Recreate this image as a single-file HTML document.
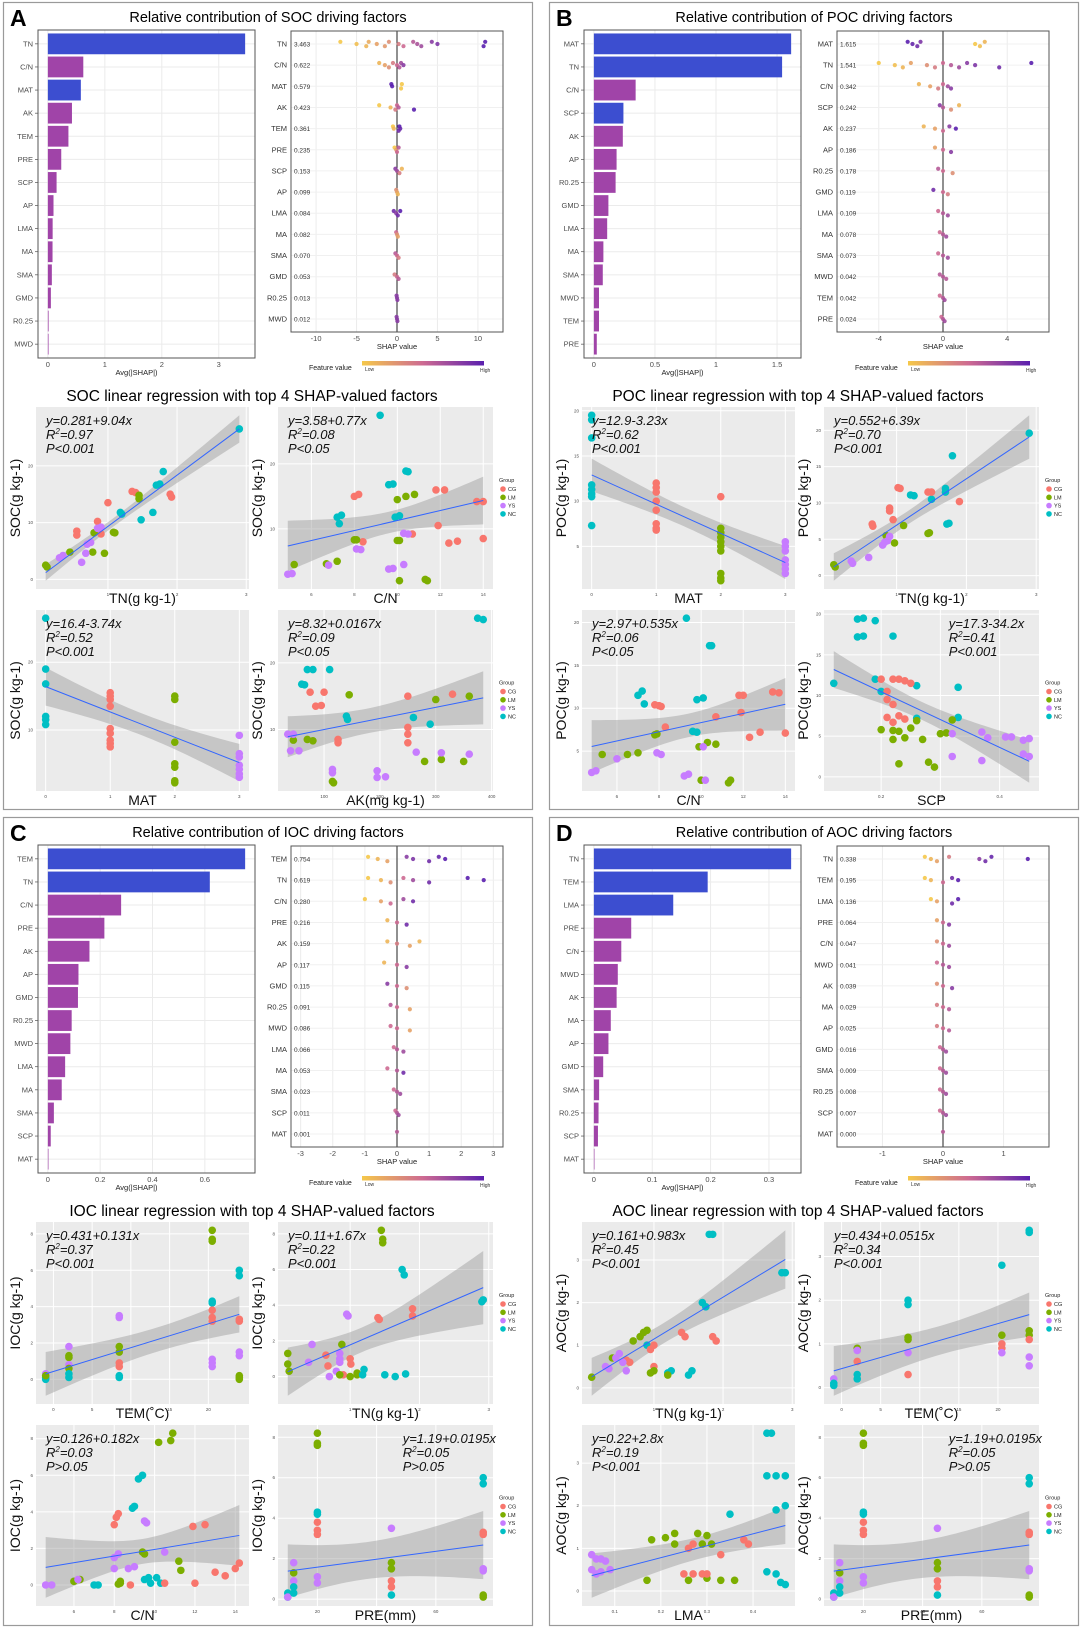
<!DOCTYPE html>
<html><head><meta charset="utf-8">
<style>
html,body{margin:0;padding:0;background:#fff;}
svg{display:block;font-family:"Liberation Sans",Arial,sans-serif;}
</style></head>
<body>
<svg id="fig" width="1080" height="1628" viewBox="0 0 1080 1628" xmlns="http://www.w3.org/2000/svg"></svg>
<script>
// ---------------- DATA ----------------
const A_barLabels=["TN","C/N","MAT","AK","TEM","PRE","SCP","AP","LMA","MA","SMA","GMD","R0.25","MWD"];
const A_barValues=[3.463,0.622,0.579,0.423,0.361,0.235,0.153,0.099,0.084,0.082,0.070,0.053,0.013,0.012];
const A_barBlue=["TN","MAT"];
const A_barTicks=[0,1,2,3];
const A_shapTicks=[-10,-5,0,5,10];
const A_shapRange=[-13.1,13.1];
const A_shapVals=[[-7,-5,-3.8,-3.5,-2.5,-1.5,-1,0.2,0.8,2,2.5,3,4.3,5,10.7,10.9],[-2.2,-1.5,-1,-0.5,0,0.3,0.5,0.8],[-0.7,-0.6,0.5,0.6],[-2.2,-0.8,-0.2,0,0.2,2.1],[-0.5,-0.4,0.2,0.3,0.4],[-0.3,-0.1,0,0.2],[-0.2,0,0.3,0.6],[-0.1,0,0.1],[-0.4,-0.1,0.1,0.4],[-0.1,0,0.1],[-0.2,0,0.2],[-0.3,0,0.2],[-0.05,0,0.05],[-0.05,0,0.05]];
const A_shapFv=[[0,0.05,0.1,0.15,0.2,0.25,0.3,0.4,0.5,0.6,0.65,0.7,0.8,0.85,1,1],[0.1,0.2,0.3,0.4,0.5,0.6,0.7,0.8],[1,1,0,0],[0,0.1,0.4,0.5,0.6,1],[0,0.1,0.9,1,0.95],[0,0.2,0.5,0.6],[0.8,0.7,0.4,0.1],[0.3,0.2,0.1],[0.9,0.8,0.9,1],[0.5,0.3,0.2],[0.6,0.5,0.4],[0.4,0.5,0.6],[0.8,0.8,0.8],[0.8,0.8,0.8]];

const B_barLabels=["MAT","TN","C/N","SCP","AK","AP","R0.25","GMD","LMA","MA","SMA","MWD","TEM","PRE"];
const B_barValues=[1.615,1.541,0.342,0.242,0.237,0.186,0.178,0.119,0.109,0.078,0.073,0.042,0.042,0.024];
const B_barBlue=["MAT","TN","SCP"];
const B_barTicks=[0,0.5,1.0,1.5];
const B_shapTicks=[-4,0,4];
const B_shapRange=[-6.6,6.6];
const B_shapVals=[[-2.2,-1.9,-1.6,-1.4,2.0,2.3,2.6],[-4,-3,-2.5,-2,-1,-0.5,0,0.5,1,1.5,2,3.5,5.5],[-1.5,-0.8,-0.3,0,0.3,0.5],[-0.2,0,0.5,1],[-1.2,-0.5,0,0.4,0.8],[-0.5,0,0.5],[-0.3,0,0.6],[-0.6,0,0.3],[-0.3,0,0.3],[-0.2,0,0.2],[-0.3,0,0.3],[-0.2,0,0.2],[-0.2,0,0.1],[-0.1,0,0.1]];
const B_shapFv=[[1,0.95,0.9,0.85,0,0.05,0.1],[0,0.05,0.1,0.2,0.3,0.4,0.5,0.6,0.7,0.8,0.85,0.9,1],[0.1,0.2,0.4,0.5,0.7,0.8],[0.8,0.6,0.3,0.1],[0.1,0.2,0.5,0.8,1],[0.2,0.5,0.8],[0.6,0.5,0.3],[0.9,0.5,0.4],[0.5,0.6,0.7],[0.5,0.6,0.7],[0.5,0.6,0.7],[0.6,0.6,0.6],[0.5,0.6,0.7],[0.5,0.6,0.7]];

const C_barLabels=["TEM","TN","C/N","PRE","AK","AP","GMD","R0.25","MWD","LMA","MA","SMA","SCP","MAT"];
const C_barValues=[0.754,0.619,0.280,0.216,0.159,0.117,0.115,0.091,0.086,0.066,0.053,0.023,0.011,0.001];
const C_barBlue=["TEM","TN"];
const C_barTicks=[0,0.2,0.4,0.6];
const C_shapTicks=[-3,-2,-1,0,1,2,3];
const C_shapRange=[-3.3,3.3];
const C_shapVals=[[-0.9,-0.6,-0.3,0.3,0.5,1.0,1.3,1.5],[-0.9,-0.5,-0.2,0.2,0.5,1.0,2.2,2.7],[-1,-0.5,-0.2,0.2,0.5],[-0.3,0,0.3],[-0.3,0,0.4,0.7],[-0.4,0,0.3],[-0.3,0,0.3],[-0.2,0,0.4],[-0.2,0,0.4],[-0.1,0,0.2],[-0.3,0,0.2],[-0.1,0,0.1],[-0.05,0,0.05],[0]];
const C_shapFv=[[0,0.1,0.2,0.8,0.85,0.9,0.95,1],[0,0.1,0.3,0.5,0.7,0.9,1,1],[0,0.2,0.5,0.7,0.9],[0.1,0.5,0.9],[0.1,0.4,0.2,0.1],[0.1,0.5,0.8],[0.8,0.5,0.3],[0.6,0.5,0.2],[0.5,0.5,0.2],[0.5,0.6,0.7],[0.5,0.6,0.9],[0.5,0.6,0.7],[0.5,0.6,0.7],[0.6]];

const D_barLabels=["TN","TEM","LMA","PRE","C/N","MWD","AK","MA","AP","GMD","SMA","R0.25","SCP","MAT"];
const D_barValues=[0.338,0.195,0.136,0.064,0.047,0.041,0.039,0.029,0.025,0.016,0.009,0.008,0.007,0.000];
const D_barBlue=["TN","TEM","LMA"];
const D_barTicks=[0,0.1,0.2,0.3];
const D_shapTicks=[-1,0,1];
const D_shapRange=[-1.75,1.75];
const D_shapVals=[[-0.3,-0.2,-0.1,0.1,0.6,0.7,0.8,1.4],[-0.3,-0.2,0,0.15,0.25],[-0.2,-0.1,0.15,0.25],[-0.1,0,0.1],[-0.1,0,0.1],[-0.1,0,0.1],[-0.1,0,0.15],[-0.1,0,0.1],[-0.1,0,0.1],[-0.05,0,0.05],[-0.05,0,0.05],[-0.05,0,0.05],[-0.05,0,0.05],[0]];
const D_shapFv=[[0,0.1,0.2,0.4,0.8,0.9,0.95,1],[0,0.1,0.5,0.9,1],[0,0.2,0.9,1],[0.2,0.5,0.8],[0.3,0.5,0.7],[0.5,0.6,0.7],[0.3,0.5,0.8],[0.4,0.5,0.6],[0.4,0.5,0.6],[0.5,0.6,0.7],[0.5,0.6,0.7],[0.5,0.6,0.7],[0.5,0.6,0.7],[0.6]];

// scatter points [x, y, group]
const A1_pts=[[2.9,26.5,"NC"],[1.8,19,"NC"],[1.75,16.8,"NC"],[1.7,16.6,"NC"],[1.2,11.5,"NC"],[1.18,11.8,"NC"],[1.65,11.8,"NC"],[1.48,10.5,"NC"],[1.35,15.5,"CG"],[1.4,15.3,"CG"],[1.0,13.5,"CG"],[0.85,10.2,"CG"],[0.9,8,"CG"],[0.55,8.5,"CG"],[0.55,7.8,"CG"],[1.9,15,"CG"],[1.92,14.5,"CG"],[0.1,2.5,"LM"],[0.12,2.2,"LM"],[0.45,4.8,"LM"],[0.8,8.2,"LM"],[0.78,4.8,"LM"],[0.95,4.6,"LM"],[1.1,8.2,"LM"],[1.08,8.3,"LM"],[1.45,14.8,"LM"],[1.45,14.2,"LM"],[0.35,4.2,"YS"],[0.3,3.8,"YS"],[0.62,3.0,"YS"],[0.75,6.5,"YS"],[0.7,6.2,"YS"],[0.9,9.2,"YS"],[0.85,9,"YS"],[0.68,4.6,"YS"]];
const A2_pts=[[9.2,27.5,"NC"],[10.5,18.8,"NC"],[10.4,18.9,"NC"],[9.6,16.8,"NC"],[9.8,16.9,"NC"],[7.2,11.8,"NC"],[7.4,12.1,"NC"],[7.3,10.8,"NC"],[9.9,11.8,"NC"],[10.1,12,"NC"],[8,15,"CG"],[8.2,15.3,"CG"],[11.8,16,"CG"],[12.2,16,"CG"],[13.7,14.2,"CG"],[14,14.2,"CG"],[11.9,10.5,"CG"],[10.7,9.2,"CG"],[8.4,8,"CG"],[12.4,7.8,"CG"],[12.8,8.1,"CG"],[14,8.5,"CG"],[5.2,4.5,"LM"],[6.7,4.6,"LM"],[7.2,5,"LM"],[8,8.3,"LM"],[8.1,8.3,"LM"],[10,14.5,"LM"],[10.4,15,"LM"],[10.8,15.3,"LM"],[10,8.2,"LM"],[10.1,8.2,"LM"],[10.1,2,"LM"],[11.3,2.2,"LM"],[11.4,2,"LM"],[4.9,3,"YS"],[5.1,3.1,"YS"],[6.8,4.4,"YS"],[8.1,6.9,"YS"],[8.3,6.8,"YS"],[9.6,3.8,"YS"],[9.8,3.9,"YS"],[10.3,4.5,"YS"],[10.3,9.3,"YS"],[10.5,9.2,"YS"]];
const A3_pts=[[0,26.5,"NC"],[0,19,"NC"],[0,16.8,"NC"],[0,11.5,"NC"],[0,12,"NC"],[0,10.8,"NC"],[1,15.5,"CG"],[1,15,"CG"],[1,14.5,"CG"],[1,13.5,"CG"],[1,10.2,"CG"],[1,9.5,"CG"],[1,8.5,"CG"],[1,8,"CG"],[1,7.5,"CG"],[2,15,"LM"],[2,14.5,"LM"],[2,8.2,"LM"],[2,5,"LM"],[2,4.5,"LM"],[2,2.2,"LM"],[2,2.5,"LM"],[3,9.2,"YS"],[3,6.5,"YS"],[3,6,"YS"],[3,4.8,"YS"],[3,4.2,"YS"],[3,3.5,"YS"],[3,3,"YS"]];
const A4_pts=[[385,26.5,"NC"],[375,26.7,"NC"],[70,19,"NC"],[80,19,"NC"],[110,19,"NC"],[60,16.8,"NC"],[65,16.7,"NC"],[140,12,"NC"],[142,11.5,"NC"],[260,11.8,"NC"],[290,10.8,"NC"],[75,15.6,"CG"],[100,15.6,"CG"],[85,13.5,"CG"],[95,13.6,"CG"],[250,15,"CG"],[330,15.3,"CG"],[250,10.3,"CG"],[250,9.3,"CG"],[250,8,"CG"],[125,8.5,"CG"],[125,8,"CG"],[145,15.2,"LM"],[300,14.5,"LM"],[360,15,"LM"],[70,8.5,"LM"],[80,8.3,"LM"],[45,8.4,"LM"],[280,5.2,"LM"],[310,5.5,"LM"],[350,5.2,"LM"],[115,2.2,"LM"],[117,2,"LM"],[35,9.3,"YS"],[45,9.3,"YS"],[40,6.8,"YS"],[55,6.8,"YS"],[115,4,"YS"],[115,3.5,"YS"],[195,3.8,"YS"],[195,2.8,"YS"],[210,2.9,"YS"],[265,6.6,"YS"],[310,6.5,"YS"],[360,6.3,"YS"]];

const B1_pts=[[0,19.5,"NC"],[0,19,"NC"],[0,17,"NC"],[0,11.8,"NC"],[0,11.3,"NC"],[0,10.8,"NC"],[0,10.5,"NC"],[0,7.3,"NC"],[1,12,"CG"],[1,11.5,"CG"],[1,11,"CG"],[1,10,"CG"],[1,9,"CG"],[1,7.5,"CG"],[1,7,"CG"],[1,6.8,"CG"],[2,10.5,"CG"],[2,7,"LM"],[2,6.5,"LM"],[2,6,"LM"],[2,5.5,"LM"],[2,5,"LM"],[2,4.5,"LM"],[2,2,"LM"],[2,1.5,"LM"],[2,1.2,"LM"],[3,5.5,"YS"],[3,5,"YS"],[3,4.5,"YS"],[3,3.5,"YS"],[3,3,"YS"],[3,2.5,"YS"],[3,2,"YS"]];
const B2_pts=[[2.9,19.6,"NC"],[1.8,16.5,"NC"],[1.7,12,"NC"],[1.7,11.5,"NC"],[1.25,11,"NC"],[1.2,11.1,"NC"],[1.5,10.5,"NC"],[1.75,7.2,"NC"],[1.72,7.1,"NC"],[1.05,12,"CG"],[1.02,12.1,"CG"],[1.45,11.5,"CG"],[1.5,11.5,"CG"],[0.9,9.3,"CG"],[0.9,8.9,"CG"],[0.95,7.7,"CG"],[0.65,7.1,"CG"],[0.66,6.8,"CG"],[1.9,10.2,"CG"],[0.1,1.5,"LM"],[0.12,1.2,"LM"],[0.85,5.5,"LM"],[0.97,4.5,"LM"],[1.1,6.9,"LM"],[1.45,5.8,"LM"],[1.47,5.9,"LM"],[0.35,2.0,"YS"],[0.37,1.7,"YS"],[0.6,2.5,"YS"],[0.8,4.2,"YS"],[0.83,4.6,"YS"],[0.87,4.8,"YS"],[0.9,5.4,"YS"]];
const B3_pts=[[9.3,20.5,"NC"],[10.4,17.3,"NC"],[10.5,17.3,"NC"],[7.0,11.5,"NC"],[7.2,12,"NC"],[7.3,10.5,"NC"],[9.8,11,"NC"],[10.1,11.2,"NC"],[9.6,7.3,"NC"],[9.8,7.2,"NC"],[7.8,10.4,"CG"],[8,10.3,"CG"],[8.1,10.2,"CG"],[8.3,7.8,"CG"],[11.8,11.5,"CG"],[12,11.5,"CG"],[13.4,11.9,"CG"],[13.7,11.8,"CG"],[11.9,9.5,"CG"],[10.7,9,"CG"],[12.3,6.6,"CG"],[12.8,7.2,"CG"],[14,7.1,"CG"],[5.3,4.6,"LM"],[6.5,4.6,"LM"],[7,4.8,"LM"],[7.8,6.9,"LM"],[7.9,7,"LM"],[9.9,5.5,"LM"],[10.3,6,"LM"],[10.7,5.8,"LM"],[10,1.6,"LM"],[11.3,1.3,"LM"],[11.4,1.6,"LM"],[4.8,2.5,"YS"],[5.0,2.7,"YS"],[6.0,4.1,"YS"],[7.9,4.8,"YS"],[8.1,4.6,"YS"],[9.2,2.1,"YS"],[9.4,2.3,"YS"],[10.1,5.5,"YS"],[10.2,1.6,"YS"]];
const B4_pts=[[0.16,19.4,"NC"],[0.17,19.5,"NC"],[0.19,19.2,"NC"],[0.16,17.2,"NC"],[0.17,17.3,"NC"],[0.22,17.3,"NC"],[0.12,11.5,"NC"],[0.19,12,"NC"],[0.2,10.5,"NC"],[0.26,11.2,"NC"],[0.33,11,"NC"],[0.26,7.2,"NC"],[0.33,7.3,"NC"],[0.2,12.0,"CG"],[0.22,12,"CG"],[0.23,12,"CG"],[0.24,11.8,"CG"],[0.25,11.5,"CG"],[0.21,10.5,"CG"],[0.21,9.5,"CG"],[0.22,8.9,"CG"],[0.21,7.3,"CG"],[0.22,6.7,"CG"],[0.23,7.5,"CG"],[0.24,7.1,"CG"],[0.2,5.8,"LM"],[0.22,5.7,"LM"],[0.22,4.6,"LM"],[0.23,5.6,"LM"],[0.24,4.8,"LM"],[0.25,6.0,"LM"],[0.26,6.9,"LM"],[0.27,4.6,"LM"],[0.23,1.6,"LM"],[0.28,1.8,"LM"],[0.29,1.2,"LM"],[0.3,5.3,"LM"],[0.31,5.4,"LM"],[0.32,7,"LM"],[0.32,5.3,"YS"],[0.32,2.5,"YS"],[0.37,5.5,"YS"],[0.37,2.0,"YS"],[0.38,4.8,"YS"],[0.41,4.9,"YS"],[0.42,4.9,"YS"],[0.44,4.5,"YS"],[0.45,4.7,"YS"],[0.44,2.8,"YS"],[0.45,2.5,"YS"]];

const C1_pts=[[-1,0.3,"YS"],[-1,0.1,"NC"],[-1,0.0,"NC"],[-1,0.2,"LM"],[2,1.8,"YS"],[2,1.3,"LM"],[2,1.2,"LM"],[2,0.8,"YS"],[2,0.6,"LM"],[2,0.3,"NC"],[2,0.1,"NC"],[8.5,1.8,"LM"],[8.5,1.5,"LM"],[8.5,0.9,"CG"],[8.5,0.7,"CG"],[8.5,3.5,"YS"],[8.5,3.4,"YS"],[8.5,0.2,"NC"],[8.5,0.1,"NC"],[20.5,8.2,"LM"],[20.5,7.7,"LM"],[20.5,7.6,"LM"],[20.5,4.3,"NC"],[20.5,4.2,"NC"],[20.5,3.8,"CG"],[20.5,3.4,"CG"],[20.5,3.2,"CG"],[20.5,1.1,"YS"],[20.5,0.9,"YS"],[20.5,0.7,"YS"],[24,6,"NC"],[24,5.7,"NC"],[24,3.3,"CG"],[24,3.2,"CG"],[24,1.5,"YS"],[24,1.3,"YS"],[24,0.2,"LM"],[24,0.1,"LM"],[24,0,"LM"]];
const C2_pts=[[1.45,8.2,"LM"],[1.47,7.7,"LM"],[1.47,7.5,"LM"],[1.75,6,"NC"],[1.78,5.7,"NC"],[2.9,4.2,"NC"],[2.92,4.3,"NC"],[1.4,3.3,"CG"],[1.42,3.2,"CG"],[1.9,3.8,"CG"],[1.9,3.4,"CG"],[1.0,1,"CG"],[1.01,0.7,"CG"],[0.65,1.2,"CG"],[0.68,0.6,"CG"],[0.9,0.1,"CG"],[0.95,3.5,"YS"],[0.97,3.4,"YS"],[0.45,1.8,"YS"],[0.85,1.3,"YS"],[0.85,1,"YS"],[0.85,0.8,"YS"],[0.7,0,"YS"],[0.8,0.3,"YS"],[0.4,0.8,"YS"],[0.1,1.3,"LM"],[0.1,0.7,"LM"],[0.12,0.3,"LM"],[0.88,1.8,"LM"],[0.85,0.1,"LM"],[1.0,0,"LM"],[1.1,0.2,"LM"],[1.1,0.1,"LM"],[1.2,0.4,"NC"],[1.18,0.1,"NC"],[1.5,0.1,"NC"],[1.65,0,"NC"],[1.8,0.15,"NC"]];
const C3_pts=[[10.9,8.3,"LM"],[10.8,7.9,"LM"],[10.2,7.8,"LM"],[9.4,1.8,"LM"],[9.5,1.7,"LM"],[11.2,1.3,"LM"],[11.3,0.8,"LM"],[6.0,0.2,"LM"],[6.3,0.3,"LM"],[8.3,0.2,"LM"],[8.3,0.1,"LM"],[8.2,0.05,"LM"],[9.4,6,"NC"],[9.2,5.8,"NC"],[9,4.3,"NC"],[8.9,4.2,"NC"],[9.7,0.4,"NC"],[9.5,0.3,"NC"],[10.1,0.4,"NC"],[9.8,0.1,"NC"],[7,0,"NC"],[7.2,0,"NC"],[10.3,0.1,"NC"],[8.1,3.7,"CG"],[8.2,3.9,"CG"],[8,3.3,"CG"],[11.9,3.2,"CG"],[12.5,3.3,"CG"],[13,0.7,"CG"],[13.5,0.5,"CG"],[14,0.9,"CG"],[14.2,1.2,"CG"],[12,0.1,"CG"],[10.5,0.1,"CG"],[8.8,0,"CG"],[4.6,0,"YS"],[4.9,0,"YS"],[6.2,0.3,"YS"],[8,1.5,"YS"],[8.2,1.7,"YS"],[8,0.9,"YS"],[9.5,3.5,"YS"],[9.6,3.4,"YS"],[10.5,1.8,"YS"],[8.7,0.9,"YS"],[9,1,"YS"]];
const C4_pts=[[10,0.3,"NC"],[10,0.1,"NC"],[10,0.1,"YS"],[12,1.3,"LM"],[12,1.8,"YS"],[12,0.9,"YS"],[12,0.6,"NC"],[12,0.3,"NC"],[20,8.2,"LM"],[20,7.7,"LM"],[20,7.6,"LM"],[20,4.3,"NC"],[20,4.2,"NC"],[20,3.8,"CG"],[20,3.4,"CG"],[20,3.2,"CG"],[20,1.1,"YS"],[20,0.8,"YS"],[45,3.5,"YS"],[45,1.8,"LM"],[45,1.5,"LM"],[45,0.9,"CG"],[45,0.6,"CG"],[45,0.2,"NC"],[76,6,"NC"],[76,5.7,"NC"],[76,3.3,"CG"],[76,3.2,"CG"],[76,1.5,"YS"],[76,1.4,"YS"],[76,0.2,"LM"],[76,0.1,"LM"]];

const D1_pts=[[1.8,3.6,"NC"],[1.85,3.6,"NC"],[1.7,2.0,"NC"],[1.75,1.9,"NC"],[2.85,2.7,"NC"],[2.9,2.7,"NC"],[1.25,0.4,"NC"],[1.2,0.35,"NC"],[1.5,0.3,"NC"],[1.55,0.4,"NC"],[0.9,1.0,"NC"],[1.4,1.3,"CG"],[1.45,1.2,"CG"],[1.9,1.1,"CG"],[1.85,1.2,"CG"],[1.0,1.0,"CG"],[0.95,0.9,"CG"],[0.6,0.65,"CG"],[0.65,0.6,"CG"],[1.0,0.5,"CG"],[0.1,0.25,"LM"],[0.4,0.7,"LM"],[0.7,1.1,"LM"],[0.8,1.2,"LM"],[0.85,1.3,"LM"],[0.9,1.35,"LM"],[1.0,0.4,"LM"],[1.2,0.3,"LM"],[0.95,0.35,"LM"],[0.3,0.5,"YS"],[0.35,0.45,"YS"],[0.45,0.7,"YS"],[0.5,0.8,"YS"],[0.55,0.6,"YS"],[0.6,0.4,"YS"]];
const D2_pts=[[-1,0.2,"YS"],[-1,0.1,"NC"],[-1,0.05,"NC"],[2,0.9,"LM"],[2,0.85,"YS"],[2,0.6,"CG"],[2,0.3,"NC"],[2,0.2,"NC"],[8.5,2.0,"NC"],[8.5,1.9,"NC"],[8.5,1.15,"LM"],[8.5,1.1,"LM"],[8.5,0.3,"CG"],[8.5,0.8,"YS"],[20.5,2.8,"NC"],[20.5,1.0,"CG"],[20.5,0.9,"CG"],[20.5,0.8,"YS"],[20.5,1.2,"LM"],[24,3.6,"NC"],[24,3.55,"NC"],[24,1.3,"LM"],[24,1.2,"LM"],[24,1.1,"CG"],[24,0.7,"YS"],[24,0.5,"YS"]];
const D3_pts=[[0.43,3.7,"NC"],[0.44,3.7,"NC"],[0.43,2.7,"NC"],[0.45,2.7,"NC"],[0.47,2.7,"NC"],[0.35,1.8,"NC"],[0.45,1.9,"NC"],[0.47,2.0,"NC"],[0.43,0.45,"NC"],[0.45,0.4,"NC"],[0.46,0.2,"NC"],[0.47,0.15,"NC"],[0.18,1.2,"LM"],[0.21,1.25,"LM"],[0.23,1.35,"LM"],[0.23,1.1,"LM"],[0.28,1.35,"LM"],[0.3,1.3,"LM"],[0.29,1.1,"LM"],[0.31,1.1,"LM"],[0.17,0.25,"LM"],[0.26,0.25,"LM"],[0.3,0.3,"LM"],[0.33,0.25,"LM"],[0.36,0.25,"LM"],[0.27,1.1,"CG"],[0.26,1.0,"CG"],[0.25,0.4,"CG"],[0.27,0.4,"CG"],[0.29,0.4,"CG"],[0.3,0.4,"CG"],[0.33,0.85,"CG"],[0.38,1.2,"CG"],[0.39,1.1,"CG"],[0.05,0.85,"YS"],[0.06,0.75,"YS"],[0.07,0.75,"YS"],[0.05,0.5,"YS"],[0.06,0.4,"YS"],[0.07,0.45,"YS"],[0.09,0.5,"YS"],[0.08,0.7,"YS"]];
const D4_pts=C4_pts;

const A_regIntercepts=[0.281,3.58,16.4,8.32];
const A_regSlopes=[9.04,0.77,-3.74,0.0167];
const A_regR2=["0.97","0.08","0.52","0.09"];
const A_regP=["P<0.001","P<0.05","P<0.001","P<0.05"];
const A_eq=["y=0.281+9.04x","y=3.58+0.77x","y=16.4-3.74x","y=8.32+0.0167x"];
const A_xTicks=[[1,2,3],[6,8,10,12,14],[0,1,2,3],[100,200,300,400]];
const A_yTicks=[[0,10,20],[10,20],[10,20],[10,20]];

const B_regIntercepts=[12.9,0.552,2.97,17.3];
const B_regSlopes=[-3.23,6.39,0.535,-34.2];
const B_regR2=["0.62","0.70","0.06","0.41"];
const B_regP=["P<0.001","P<0.001","P<0.05","P<0.001"];
const B_eq=["y=12.9-3.23x","y=0.552+6.39x","y=2.97+0.535x","y=17.3-34.2x"];
const B_xTicks=[[0,1,2,3],[1,2,3],[6,8,10,12,14],[0.1,0.2,0.3,0.4]];
const B_yTicks=[[5,10,15,20],[0,5,10,15,20],[5,10,15,20],[0,5,10,15,20]];

const C_regIntercepts=[0.431,0.11,0.126,1.19];
const C_regSlopes=[0.131,1.67,0.182,0.0195];
const C_regR2=["0.37","0.22","0.03","0.05"];
const C_regP=["P<0.001","P<0.001","P>0.05","P>0.05"];
const C_eq=["y=0.431+0.131x","y=0.11+1.67x","y=0.126+0.182x","y=1.19+0.0195x"];
const C_xTicks=[[0,5,10,15,20],[1,2,3],[6,8,10,12,14],[20,40,60]];
const C_yTicks=[[0,2,4,6,8],[0,2,4,6,8],[0,2,4,6,8],[0,2,4,6,8]];

const D_regIntercepts=[0.161,0.434,0.22,1.19];
const D_regSlopes=[0.983,0.0515,2.8,0.0195];
const D_regR2=["0.45","0.34","0.19","0.05"];
const D_regP=["P<0.001","P<0.001","P<0.001","P>0.05"];
const D_eq=["y=0.161+0.983x","y=0.434+0.0515x","y=0.22+2.8x","y=1.19+0.0195x"];
const D_xTicks=[[1,2,3],[0,5,10,15,20],[0.1,0.2,0.3,0.4],[20,40,60]];
const D_yTicks=[[0,1,2,3],[0,1,2,3],[0,1,2,3],[0,2,4,6,8]];

// ---------------- DRAWING ----------------
const NS="http://www.w3.org/2000/svg";
const svg=document.getElementById("fig");
const GCOL={CG:"#F8766D",LM:"#7CAE00",YS:"#C77CFF",NC:"#00BFC4"};
function mk(tag,parent,attrs){const e=document.createElementNS(NS,tag);for(const k in attrs)e.setAttribute(k,attrs[k]);parent.appendChild(e);return e;}
function txt(parent,x,y,s,size,anchor,fill,extra){const t=mk("text",parent,Object.assign({x:x,y:y,"font-size":size,"text-anchor":anchor||"start",fill:fill||"#000"},extra||{}));t.textContent=s;return t;}
function lerp(a,b,t){return a+(b-a)*t;}
function hex(c){return [parseInt(c.slice(1,3),16),parseInt(c.slice(3,5),16),parseInt(c.slice(5,7),16)];}
function grad(t){const s=[[0,"#F5C84A"],[0.5,"#CD6A92"],[1,"#5A1FAE"]];let i=t<=0.5?0:1;const a=s[i],b=s[i+1];const u=(t-a[0])/(b[0]-a[0]);const ca=hex(a[1]),cb=hex(b[1]);return "rgb("+ca.map((v,k)=>Math.round(lerp(v,cb[k],u))).join(",")+")";}
function fmt(v){return (Math.round(v*1000)/1000).toString();}

function drawBars(g,P){
  const x0=35,x1=252,y0=28,y1=356;
  const R=Math.max.apply(null,P.barValues);
  const dmin=-0.05*R,dmax=1.05*R;
  const sx=v=>x0+(v-dmin)/(dmax-dmin)*(x1-x0);
  const n=P.barLabels.length;const step=(y1-y0)/(n-1+1.2);const sy=i=>y0+0.6*step+i*step;
  const bg=mk("rect",g,{x:x0,y:y0,width:x1-x0,height:y1-y0,fill:"#fff",stroke:"none"});
  
  
  P.barTicks.forEach(t=>{mk("line",g,{x1:sx(t),x2:sx(t),y1:y0,y2:y1,stroke:"#ebebeb","stroke-width":1});
    const l=txt(g,sx(t),y1+9,String(t),7.5,"middle","#4d4d4d");
    
    });
  for(let i=0;i<n;i++) mk("line",g,{x1:x0,x2:x1,y1:sy(i),y2:sy(i),stroke:"#ebebeb","stroke-width":1});
  P.barLabels.forEach((lab,i)=>{
    const blue=P.barBlue.indexOf(lab)>=0;
    const h=step*0.9;
    const r=mk("rect",g,{x:sx(0),y:sy(i)-h/2,width:Math.max(0.6,sx(P.barValues[i])-sx(0)),height:h,fill:blue?"#3C4ED0":"#A044A8"});
    
    
    const t=txt(g,x0-5,sy(i)+2.5,lab,7.5,"end","#4d4d4d");
    
    
    mk("line",g,{x1:x0-3,x2:x0,y1:sy(i),y2:sy(i),stroke:"#333","stroke-width":0.6});
  });
  mk("rect",g,{x:x0,y:y0,width:x1-x0,height:y1-y0,fill:"none",stroke:"#555","stroke-width":1});
  const at=txt(g,(x0+x1)/2-10,y1+17,"Avg(|SHAP|)",7.5,"middle","#222");
  
  
}

function drawShap(g,P){
  const x0=288,x1=500,y0=29,y1=330;
  const sx=v=>x0+(v-P.shapRange[0])/(P.shapRange[1]-P.shapRange[0])*(x1-x0);
  const n=P.barLabels.length;const step=(y1-y0-26)/(n-1);const sy=i=>y0+13+i*step;
  const bg=mk("rect",g,{x:x0,y:y0,width:x1-x0,height:y1-y0,fill:"#fff"});
  
  
  P.shapTicks.forEach(t=>{mk("line",g,{x1:sx(t),x2:sx(t),y1:y0,y2:y1,stroke:"#ececec","stroke-width":1});
    const l=txt(g,sx(t),y1+9,String(t),7.5,"middle","#4d4d4d");
    
    });
  for(let i=0;i<n;i++) mk("line",g,{x1:x0,x2:x1,y1:sy(i),y2:sy(i),stroke:"#f0f0f0","stroke-width":1});
  mk("line",g,{x1:sx(0),x2:sx(0),y1:y0,y2:y1,stroke:"#222","stroke-width":1});
  P.barLabels.forEach((lab,i)=>{
    const t=txt(g,x0-4,sy(i)+2.5,lab,7.5,"end","#333");
    
    
    const v=txt(g,x0+3,sy(i)+2.5,P.barValues[i].toFixed(3),6.5,"start","#333");
    
    
    const vals=P.shapVals[i],fv=P.shapFv[i];
    vals.forEach((s,k)=>{
      const off=((k%3)-1)*2.2;
      const c=mk("circle",g,{cx:sx(s),cy:sy(i)+off,r:2.1,fill:grad(fv[k]),"fill-opacity":0.9});
      
      
    });
  });
  mk("rect",g,{x:x0,y:y0,width:x1-x0,height:y1-y0,fill:"none",stroke:"#555","stroke-width":1});
  const st=txt(g,sx(0),y1+17,"SHAP value",7.5,"middle","#222");
  
  
  // legend
  const lg=mk("g",g,{});
  
  
  const defsId="gr"+P.letter;
  const defs=mk("defs",lg,{});const lgd=mk("linearGradient",defs,{id:defsId,x1:"0",x2:"1",y1:"0",y2:"0"});
  [0,0.5,1].forEach(o=>mk("stop",lgd,{offset:o,"stop-color":grad(o)}));
  mk("rect",lg,{x:359,y:359,width:122,height:4.5,fill:"url(#"+defsId+")"});
  txt(lg,306,368,"Feature value",7,"start","#222");
  txt(lg,362,369,"Low",5,"start","#333");
  txt(lg,477,370,"High",5,"start","#333");
}

function drawScatter(g,P,k,box,legend,eqRight){
  const pts=P.pts[k];
  const xs=pts.map(p=>p[0]),ys=pts.map(p=>p[1]);
  let xmin=Math.min.apply(null,xs),xmax=Math.max.apply(null,xs),ymin=Math.min.apply(null,ys),ymax=Math.max.apply(null,ys);
  const b=P.intercepts[k],m=P.slopes[k];
  // band from data
  const n=pts.length,xbar=xs.reduce((a,c)=>a+c,0)/n;
  const Sxx=xs.reduce((a,c)=>a+(c-xbar)*(c-xbar),0);
  const s=Math.sqrt(pts.reduce((a,p)=>a+Math.pow(p[1]-(b+m*p[0]),2),0)/(n-2));
  const se=x=>2.02*s*Math.sqrt(1/n+(x-xbar)*(x-xbar)/Sxx);
  ymin=Math.min(ymin,b+m*xmin-se(xmin),b+m*xmax-se(xmax));
  ymax=Math.max(ymax,b+m*xmin+se(xmin),b+m*xmax+se(xmax));
  const px=(xmax-xmin)*0.05,py=(ymax-ymin)*0.05;
  const dx0=xmin-px,dx1=xmax+px,dy0=ymin-py,dy1=ymax+py;
  const [X,Y,W,H]=box;
  const sx=v=>X+(v-dx0)/(dx1-dx0)*W, sy=v=>Y+H-(v-dy0)/(dy1-dy0)*H;
  const bg=mk("rect",g,{x:X,y:Y,width:W,height:H,fill:"#EBEBEB"});
  
  
  P.xTicks[k].forEach(t=>{if(t<dx0||t>dx1)return;mk("line",g,{x1:sx(t),x2:sx(t),y1:Y,y2:Y+H,stroke:"#fff","stroke-width":1});
    const l=txt(g,sx(t),Y+H+7,String(t),4.5,"middle","#4d4d4d");
    
    });
  P.yTicks[k].forEach(t=>{if(t<dy0||t>dy1)return;mk("line",g,{x1:X,x2:X+W,y1:sy(t),y2:sy(t),stroke:"#fff","stroke-width":1});
    const l=txt(g,X-3,sy(t)+1.5,String(t),4.5,"end","#4d4d4d");
    
    });
  // band
  const N=40;let up=[],lo=[];
  for(let i=0;i<=N;i++){const x=xmin+(xmax-xmin)*i/N;up.push(sx(x)+","+sy(b+m*x+se(x)));lo.unshift(sx(x)+","+sy(b+m*x-se(x)));}
  const band=mk("polygon",g,{points:up.concat(lo).join(" "),fill:"#999","fill-opacity":0.45});
  
  
  pts.forEach(p=>{const c=mk("circle",g,{cx:sx(p[0]),cy:sy(p[1]),r:3.8,fill:GCOL[p[2]]});
    
    });
  const ln=mk("line",g,{x1:sx(xmin),y1:sy(b+m*xmin),x2:sx(xmax),y2:sy(b+m*xmax),stroke:"#3366FF","stroke-width":1});
  
  
  const ex=eqRight?X+W*0.58:X+10;
  const eg=mk("g",g,{"font-style":"italic","font-size":13,fill:"#111"});
  
  
  txt(eg,ex,Y+18,P.eq[k],13,"start","#111");
  const r2=mk("text",eg,{x:ex,y:Y+32,"font-size":13,fill:"#111"});
  r2.textContent="R";const sp=mk("tspan",r2,{"font-size":8,dy:-5});sp.textContent="2";const sp2=mk("tspan",r2,{dy:5});sp2.textContent="="+P.r2[k];
  txt(eg,ex,Y+46,P.pv[k],13,"start","#111");
  const xl=txt(g,X+W/2,Y+H+14,P.xLabels[k],14,"middle","#111");
  
  
  const yl=txt(g,X-16,Y+H/2,P.yLabel,14,"middle","#111",{transform:"rotate(-90 "+(X-16)+" "+(Y+H/2)+")"});
  
  
  if(legend){
    const lg=mk("g",g,{});
    
    
    const ly=Y+H/2-16;
    txt(lg,X+W+6,ly,"Group",5.5,"start","#222");
    ["CG","LM","YS","NC"].forEach((gr,i)=>{mk("circle",lg,{cx:X+W+10,cy:ly+7+i*8.3,r:2.8,fill:GCOL[gr]});txt(lg,X+W+15,ly+9+i*8.3,gr,5.5,"start","#222");});
  }
}

function drawPanel(P,ox,oy,w,h){
  const g=mk("g",svg,{transform:"translate("+ox+","+oy+")"});
  
  
  mk("rect",g,{x:0.5,y:0.5,width:w-1,height:h-1,fill:"#fff",stroke:"#9a9a9a","stroke-width":1.2});
  const L=txt(g,7,24,P.letter,23,"start","#000",{"font-weight":"bold"});
  
  
  const T=txt(g,265,20,P.title,14.5,"middle","#000");
  
  
  drawBars(g,P);
  drawShap(g,P);
  const T2=txt(g,249,399,P.regTitle,15.5,"middle","#000");
  
  
  const boxes=[[33,405,213,182],[275,405,215,182],[33,608,213,181],[275,608,215,181]];
  boxes.forEach((bx,k)=>drawScatter(g,P,k,bx,k%2===1,P.eqRight[k]));
}

const panels=[
 {letter:"A",title:"Relative contribution of SOC driving factors",regTitle:"SOC linear regression with top 4 SHAP-valued factors",yLabel:"SOC(g kg-1)",xLabels:["TN(g kg-1)","C/N","MAT","AK(mg kg-1)"],barLabels:A_barLabels,barValues:A_barValues,barBlue:A_barBlue,barTicks:A_barTicks,shapTicks:A_shapTicks,shapRange:A_shapRange,shapVals:A_shapVals,shapFv:A_shapFv,pts:[A1_pts,A2_pts,A3_pts,A4_pts],intercepts:A_regIntercepts,slopes:A_regSlopes,r2:A_regR2,pv:A_regP,eq:A_eq,xTicks:A_xTicks,yTicks:A_yTicks,eqRight:[false,false,false,false],pos:[3,2,530,808]},
 {letter:"B",title:"Relative contribution of POC driving factors",regTitle:"POC  linear regression with top 4 SHAP-valued factors",yLabel:"POC(g kg-1)",xLabels:["MAT","TN(g kg-1)","C/N","SCP"],barLabels:B_barLabels,barValues:B_barValues,barBlue:B_barBlue,barTicks:B_barTicks,shapTicks:B_shapTicks,shapRange:B_shapRange,shapVals:B_shapVals,shapFv:B_shapFv,pts:[B1_pts,B2_pts,B3_pts,B4_pts],intercepts:B_regIntercepts,slopes:B_regSlopes,r2:B_regR2,pv:B_regP,eq:B_eq,xTicks:B_xTicks,yTicks:B_yTicks,eqRight:[false,false,false,true],pos:[549,2,530,808]},
 {letter:"C",title:"Relative contribution of IOC driving factors",regTitle:"IOC linear regression with top 4 SHAP-valued factors",yLabel:"IOC(g kg-1)",xLabels:["TEM(˚C)","TN(g kg-1)","C/N","PRE(mm)"],barLabels:C_barLabels,barValues:C_barValues,barBlue:C_barBlue,barTicks:C_barTicks,shapTicks:C_shapTicks,shapRange:C_shapRange,shapVals:C_shapVals,shapFv:C_shapFv,pts:[C1_pts,C2_pts,C3_pts,C4_pts],intercepts:C_regIntercepts,slopes:C_regSlopes,r2:C_regR2,pv:C_regP,eq:C_eq,xTicks:C_xTicks,yTicks:C_yTicks,eqRight:[false,false,false,true],pos:[3,817,530,809]},
 {letter:"D",title:"Relative contribution of AOC driving factors",regTitle:"AOC linear regression with top 4 SHAP-valued factors",yLabel:"AOC(g kg-1)",xLabels:["TN(g kg-1)","TEM(˚C)","LMA","PRE(mm)"],barLabels:D_barLabels,barValues:D_barValues,barBlue:D_barBlue,barTicks:D_barTicks,shapTicks:D_shapTicks,shapRange:D_shapRange,shapVals:D_shapVals,shapFv:D_shapFv,pts:[D1_pts,D2_pts,D3_pts,D4_pts],intercepts:D_regIntercepts,slopes:D_regSlopes,r2:D_regR2,pv:D_regP,eq:D_eq,xTicks:D_xTicks,yTicks:D_yTicks,eqRight:[false,false,false,true],pos:[549,817,530,809]}
];
panels.forEach(P=>drawPanel(P,P.pos[0],P.pos[1],P.pos[2],P.pos[3]));
</script>
</body></html>
